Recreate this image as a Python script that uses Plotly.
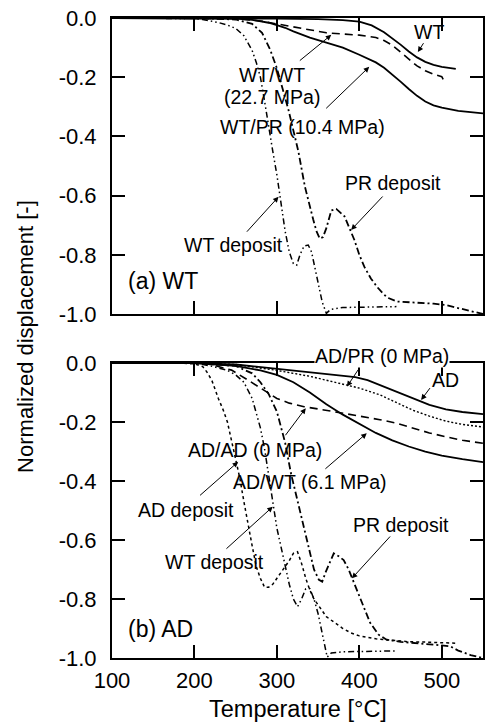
import plotly.graph_objects as go

FONT = "Liberation Sans, Arial, Helvetica, sans-serif"

# ---------------- (a) WT panel data ----------------
a_wt_T = [100, 150, 200, 250, 300, 350, 380, 400, 415, 430, 440, 450, 460, 470, 480, 490, 500, 510, 517]
a_wt_v = [0, 0, 0, 0, -0.002, -0.004, -0.007, -0.012, -0.025, -0.048, -0.068, -0.09, -0.113, -0.133,
          -0.148, -0.158, -0.165, -0.17, -0.172]

a_wtpr_T = [100, 200, 250, 270, 280, 290, 300, 310, 320, 340, 360, 380, 400, 410, 420, 430, 440, 450,
            460, 470, 480, 490, 500, 520, 550]
a_wtpr_v = [0, 0, -0.002, -0.006, -0.01, -0.016, -0.024, -0.033, -0.045, -0.066, -0.083, -0.1, -0.124,
            -0.138, -0.15, -0.168, -0.19, -0.215, -0.24, -0.263, -0.282, -0.295, -0.303, -0.314, -0.322]

a_wtwt_T = [100, 200, 250, 280, 300, 320, 340, 360, 380, 400, 420, 430, 440, 450, 460, 470, 480, 490, 500, 503]
a_wtwt_v = [0, 0, -0.002, -0.01, -0.02, -0.032, -0.042, -0.05, -0.054, -0.058, -0.066, -0.076, -0.092,
            -0.115, -0.14, -0.162, -0.178, -0.19, -0.198, -0.215]

a_wtdep_T = [100, 180, 200, 210, 220, 230, 240, 250, 260, 270, 275, 280, 285, 290, 295, 300, 305, 310,
             315, 320, 324, 328, 333, 338, 342, 346, 350, 355, 360, 365, 380, 400, 420, 445]
a_wtdep_v = [0, 0, -0.002, -0.005, -0.01, -0.016, -0.024, -0.035, -0.06, -0.11, -0.15, -0.2, -0.28, -0.37,
             -0.45, -0.53, -0.62, -0.72, -0.79, -0.83, -0.835, -0.8, -0.77, -0.767, -0.79, -0.84, -0.9,
             -0.96, -0.998, -0.985, -0.978, -0.977, -0.976, -0.975]

a_prdep_T = [100, 200, 250, 270, 282, 292, 300, 305, 314, 320, 326, 334, 340, 344, 348, 352, 356, 360,
             366, 372, 376, 382, 388, 394, 400, 406, 414, 422, 430, 436, 446, 460, 475, 490, 505, 520, 535, 550]
a_prdep_v = [0, 0, -0.005, -0.02, -0.05, -0.108, -0.17, -0.22, -0.31, -0.38, -0.45, -0.57, -0.64, -0.68,
             -0.72, -0.745, -0.74, -0.71, -0.65, -0.645, -0.655, -0.67, -0.71, -0.75, -0.8, -0.84, -0.88,
             -0.91, -0.935, -0.947, -0.958, -0.96, -0.962, -0.965, -0.97, -0.98, -0.99, -1.0]

# ---------------- (b) AD panel data ----------------
b_ad_T = [100, 200, 250, 300, 340, 370, 395, 410, 425, 445, 465, 485, 505, 525, 550]
b_ad_v = [0, 0, -0.005, -0.02, -0.032, -0.04, -0.048, -0.058, -0.075, -0.098, -0.12, -0.142, -0.157,
          -0.166, -0.173]

b_adpr_T = [100, 200, 250, 300, 340, 370, 400, 425, 445, 465, 485, 505, 525, 550]
b_adpr_v = [0, 0, -0.005, -0.025, -0.045, -0.065, -0.085, -0.108, -0.135, -0.16, -0.18, -0.197, -0.208, -0.217]

b_adwt_T = [100, 200, 250, 280, 300, 320, 340, 360, 380, 400, 420, 440, 460, 480, 500, 525, 550]
b_adwt_v = [0, 0, -0.01, -0.025, -0.04, -0.065, -0.1, -0.14, -0.175, -0.207, -0.237, -0.262, -0.283,
            -0.3, -0.314, -0.326, -0.336]

b_adad_T = [100, 200, 220, 245, 265, 285, 300, 315, 333, 357, 380, 405, 425, 445, 465, 485, 505, 525, 550]
b_adad_v = [0, 0, -0.005, -0.024, -0.058, -0.095, -0.12, -0.136, -0.148, -0.159, -0.17, -0.182, -0.192,
            -0.204, -0.22, -0.237, -0.25, -0.262, -0.272]

b_addep_T = [100, 180, 200, 210, 215, 221, 229, 235, 240, 245, 250, 255, 260, 265, 270, 275, 280, 285,
             290, 295, 300, 305, 310, 315, 320, 325, 330, 335, 340, 345, 350, 355, 360, 370, 380, 390,
             400, 410, 420, 440, 460, 480, 500, 518]
b_addep_v = [0, 0, -0.003, -0.012, -0.03, -0.058, -0.12, -0.16, -0.2, -0.26, -0.33, -0.39, -0.47, -0.55,
             -0.62, -0.69, -0.73, -0.76, -0.76, -0.75, -0.73, -0.71, -0.69, -0.67, -0.645, -0.64, -0.68,
             -0.73, -0.77, -0.8, -0.82, -0.84, -0.86, -0.88, -0.9, -0.915, -0.925, -0.93, -0.935, -0.94,
             -0.945, -0.946, -0.948, -0.95]

b_wtdep_T = [100, 200, 220, 240, 250, 260, 270, 280, 285, 290, 295, 300, 305, 310, 315, 320, 325, 330,
             335, 340, 345, 350, 355, 361, 366, 380, 400, 420, 445]
b_wtdep_v = [0, 0, -0.01, -0.025, -0.04, -0.065, -0.12, -0.22, -0.29, -0.38, -0.48, -0.56, -0.623,
             -0.69, -0.75, -0.8, -0.826, -0.8, -0.765, -0.765, -0.8, -0.85, -0.916, -0.997, -0.983,
             -0.979, -0.978, -0.977, -0.976]

b_prdep_T = [100, 200, 250, 270, 280, 290, 300, 305, 310, 317, 327, 337, 345, 351, 355, 359, 363, 369,
             375, 381, 387, 393, 403, 413, 423, 433, 450, 470, 500, 510, 520, 535, 550]
b_prdep_v = [0, 0, -0.01, -0.035, -0.065, -0.105, -0.165, -0.215, -0.27, -0.373, -0.487, -0.6, -0.7,
             -0.735, -0.741, -0.71, -0.685, -0.645, -0.655, -0.668, -0.7, -0.741, -0.814, -0.88, -0.92,
             -0.938, -0.945, -0.95, -0.955, -0.96, -0.975, -0.99, -1.0]

x_ticks = [100, 200, 300, 400, 500]
y_ticks = [0.0, -0.2, -0.4, -0.6, -0.8, -1.0]
y_ticklabels = ["0.0", "-0.2", "-0.4", "-0.6", "-0.8", "-1.0"]

SOLID = "solid"
DASH = "8px,5px"
DOT = "2px,2px"
SHORTDASH = "3px,3px"
DASHDOTDOT = "6px,3px,1.5px,3px,1.5px,3px"
DASHDOT = "7px,3px,2px,3px"

fig = go.Figure()


def add(T, v, dash, xa, ya, width=1.6):
    fig.add_trace(go.Scatter(x=T, y=v, mode="lines", xaxis=xa, yaxis=ya,
                             line=dict(color="black", width=width, dash=dash),
                             showlegend=False, hoverinfo="skip"))


# top panel (a)
add(a_wt_T, a_wt_v, SOLID, "x2", "y2", 1.8)
add(a_wtpr_T, a_wtpr_v, SOLID, "x2", "y2", 1.8)
add(a_wtwt_T, a_wtwt_v, DASH, "x2", "y2", 1.6)
add(a_wtdep_T, a_wtdep_v, DASHDOTDOT, "x2", "y2", 1.5)
add(a_prdep_T, a_prdep_v, DASHDOT, "x2", "y2", 1.8)

# bottom panel (b)
add(b_ad_T, b_ad_v, SOLID, "x", "y", 1.8)
add(b_adpr_T, b_adpr_v, DOT, "x", "y", 1.4)
add(b_adwt_T, b_adwt_v, SOLID, "x", "y", 1.8)
add(b_adad_T, b_adad_v, DASH, "x", "y", 1.6)
add(b_addep_T, b_addep_v, SHORTDASH, "x", "y", 1.5)
add(b_wtdep_T, b_wtdep_v, DASHDOTDOT, "x", "y", 1.5)
add(b_prdep_T, b_prdep_v, DASHDOT, "x", "y", 1.8)

axis_common = dict(
    range=[100, 550], showline=True, linecolor="black", linewidth=2, mirror="ticks",
    ticks="inside", ticklen=13, tickwidth=1.5, tickcolor="black", showgrid=False,
    zeroline=False, tickfont=dict(family=FONT, size=22, color="black"),
)
yaxis_common = dict(
    range=[-1.0, 0.0], showline=True, linecolor="black", linewidth=2, mirror="ticks",
    ticks="inside", ticklen=13, tickwidth=1.5, tickcolor="black", showgrid=False,
    zeroline=False, tickfont=dict(family=FONT, size=22, color="black"),
    tickvals=y_ticks, ticktext=y_ticklabels, ticklabelstandoff=9,
)

fig.update_layout(
    width=488, height=724,
    margin=dict(l=112, r=3, t=18, b=66),
    paper_bgcolor="white", plot_bgcolor="white",
    font=dict(family=FONT, size=20, color="black"),
    xaxis=dict(axis_common, anchor="y", domain=[0, 1], tickvals=x_ticks, ticklabelstandoff=2),
    yaxis=dict(yaxis_common, anchor="x", domain=[0, 0.4609]),
    xaxis2=dict(axis_common, anchor="y2", domain=[0, 1], tickvals=x_ticks, showticklabels=False),
    yaxis2=dict(yaxis_common, anchor="x2", domain=[0.5375, 1.0]),
)

ann = []


def label(text, x, y, xr, yr, size=19.5, xanchor="center", bg=None, yshift=0):
    d = dict(text=text, x=x, y=y, xref=xr, yref=yr, showarrow=False, xanchor=xanchor,
             yanchor="middle", yshift=yshift, font=dict(family=FONT, size=size, color="black"))
    if bg:
        d["bgcolor"] = bg
        d["borderpad"] = 0
    ann.append(d)


def arrow(x0, y0, x1, y1, xr, yr):
    ann.append(dict(text="", x=x1, y=y1, ax=x0, ay=y0, xref=xr, yref=yr, axref=xr, ayref=yr,
                    showarrow=True, arrowhead=2, arrowsize=1.1, arrowwidth=1, arrowcolor="black"))


# (a) labels
label("WT", 485, -0.047, "x2", "y2")
arrow(479, -0.08, 471, -0.115, "x2", "y2")
label("WT/WT", 294, -0.193, "x2", "y2")
label("(22.7 MPa)", 294, -0.267, "x2", "y2")
arrow(326, -0.148, 366, -0.057, "x2", "y2")
label("WT/PR (10.4 MPa)", 331, -0.368, "x2", "y2")
arrow(358, -0.31, 412, -0.165, "x2", "y2")
label("PR deposit", 441, -0.557, "x2", "y2")
arrow(430, -0.598, 390, -0.716, "x2", "y2")
label("WT deposit", 247, -0.767, "x2", "y2")
arrow(262, -0.727, 302, -0.604, "x2", "y2")
label("(a) WT", 117, -0.89, "x2", "y2", size=23, xanchor="left")

# (b) labels
label("AD/PR (0 MPa)", 427, -0.002, "x", "y", bg="white", yshift=8)
arrow(400, -0.017, 385, -0.08, "x", "y")
label("AD", 505, -0.058, "x", "y")
arrow(487, -0.08, 475, -0.125, "x", "y")
label("AD/AD (0 MPa)", 274, -0.295, "x", "y")
arrow(309, -0.25, 335, -0.153, "x", "y")
label("AD/WT (6.1 MPa)", 340, -0.402, "x", "y")
arrow(357, -0.363, 409, -0.238, "x", "y")
label("AD deposit", 190, -0.498, "x", "y")
arrow(205, -0.453, 253, -0.335, "x", "y")
label("WT deposit", 224, -0.673, "x", "y")
arrow(237, -0.634, 295, -0.487, "x", "y")
label("PR deposit", 451, -0.549, "x", "y")
arrow(439, -0.583, 391, -0.73, "x", "y")
label("(b) AD", 117, -0.9, "x", "y", size=23, xanchor="left")

# axis titles
label("Temperature [°C]", 0.5, -0.079, "paper", "paper", size=23.5)
ann.append(dict(text="Normalized displacement [-]", x=-0.235, y=0.503, xref="paper", yref="paper",
                showarrow=False, textangle=-90, xanchor="center", yanchor="middle",
                font=dict(family=FONT, size=22, color="black")))

fig.update_layout(annotations=ann)
fig.write_html(
    "out.html",
    config={"displayModeBar": False},
    post_script="document.body.style.margin='0';document.body.style.padding='0';"
                "document.documentElement.style.overflow='hidden';",
)
